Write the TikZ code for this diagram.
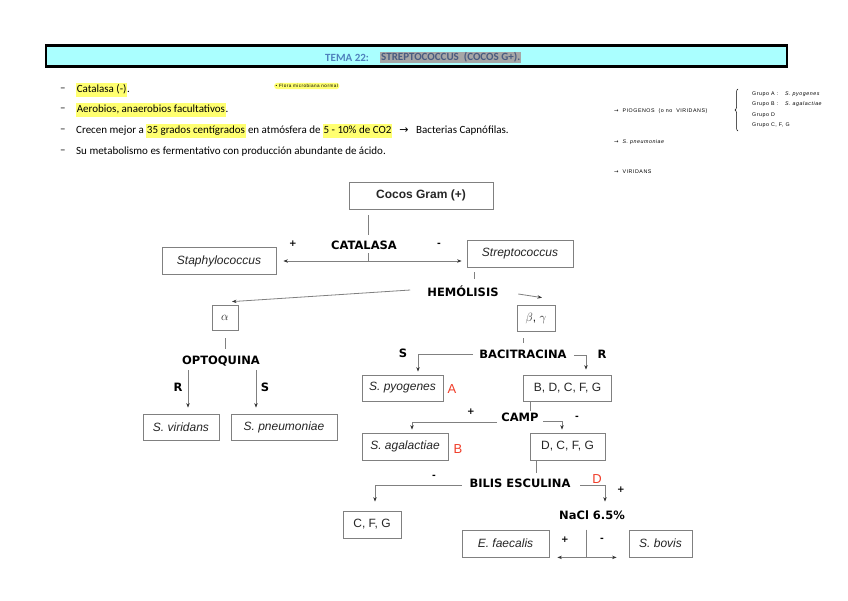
\documentclass[tikz,border=0pt]{standalone}
\usepackage{fontspec}
\setmainfont{Carlito}
\newfontfamily\arialf{Liberation Sans}
\newfontfamily\handf[LetterSpace=10]{Liberation Sans}
\newfontfamily\dejavu{DejaVu Sans}
\usetikzlibrary{arrows.meta,decorations.pathreplacing,calc}
\definecolor{hlyellow}{HTML}{FFFF70}
\definecolor{barcyan}{HTML}{AAFFFF}
\definecolor{temablue}{HTML}{4F81BD}
\definecolor{titlegray}{HTML}{A6A6A6}
\definecolor{titletext}{HTML}{4A5C80}
\definecolor{linegray}{HTML}{808080}
\definecolor{redlet}{HTML}{F03C28}
\newcommand\hlt[1]{{\setlength{\fboxsep}{0.6pt}\colorbox{hlyellow}{\strut #1}}}
\begin{document}
\begin{tikzpicture}[x=1pt,y=-1pt,
  box/.style={draw=linegray, line width=0.8pt, inner sep=0pt, font=\arialf\fontsize{12}{14}\selectfont, text=black!85},
  lbl/.style={font=\dejavu\bfseries\fontsize{11.5}{13}\selectfont, inner sep=2pt, text height=8.4pt, text depth=0pt},
  sgn/.style={font=\dejavu\bfseries\fontsize{9}{10}\selectfont, inner sep=1pt},
  conn/.style={draw=linegray, line width=0.8pt},
  arr/.style={conn, -{Stealth[length=4.5pt,width=3.4pt,color=black!80]}},
  dbl/.style={conn, {Stealth[length=4.5pt,width=3.4pt,color=black!80]}-{Stealth[length=4.5pt,width=3.4pt,color=black!80]}},
  redl/.style={font=\arialf\fontsize{13}{14}\selectfont, text=redlet, inner sep=0pt},
  bul/.style={font=\fontsize{11}{13}\selectfont, inner sep=0pt, anchor=west},
  hand/.style={font=\handf\fontsize{5.3}{6}\selectfont, inner sep=0pt, anchor=west}
]
\fill[white] (0,0) rectangle (848,600);
\useasboundingbox (0,0) rectangle (848,600);

% header bar
\node[draw=black, line width=2.5pt, fill=barcyan, minimum width=741pt, minimum height=21pt, inner sep=0pt] (bar) at (416.5,56) {};
\node[anchor=west, inner sep=0pt, font=\bfseries\fontsize{11}{13}\selectfont, text=temablue] (tema) at (325,57.5) {TEMA 22:};
\node[anchor=west, inner sep=1pt, fill=titlegray, font=\bfseries\fontsize{11}{13}\selectfont, text=titletext] (title) at (380,57.5) {STREPTOCOCCUS\ \ (COCOS G+).};

% bullets
\node[bul] (d1) at (60,90) {--};
\node[bul] (d2) at (60,110) {--};
\node[bul] (d3) at (60,131) {--};
\node[bul] (d4) at (60,152) {--};
\node[bul] (b1) at (76,90) {\hlt{Catalasa (-)}.};
\node[bul] (b2) at (76,110) {\hlt{Aerobios, anaerobios facultativos}.};
\node[bul] (b3) at (76,131) {Crecen mejor a \hlt{35 grados centígrados} en atmósfera de \hlt{5 - 10\% de CO2} \ \ {\dejavu →} \ \ Bacterias Capnófilas.};
\node[bul] (b4) at (76,152) {Su metabolismo es fermentativo con producción abundante de ácido.};

% small note
\node[hand, fill=hlyellow, rounded corners=3pt, inner sep=1.5pt, font=\handf\fontsize{4.6}{5}\selectfont] (flora) at (274,86) {• Flora microbiana normal};

% handwritten notes right
\node[hand] (piog) at (614,111) {{\dejavu →}\ \ PIOGENOS \ (o no \ VIRIDANS)};
\draw[line width=0.5pt, decorate, decoration={brace, amplitude=3pt}] (738,131) -- (738,89);
\node[hand] (ga) at (752,94) {Grupo A :};
\node[hand] (gas) at (785,94) {\itshape S. pyogenes};
\node[hand] (gb) at (752,104) {Grupo B :};
\node[hand] (gbs) at (785,104) {\itshape S. agalactiae};
\node[hand] (gd) at (752,115) {Grupo D};
\node[hand] (gc) at (752,125) {Grupo C, F, G};
\node[hand] (pn) at (614,142) {{\dejavu →}\ \ \itshape S. pneumoniae};
\node[hand] (vi) at (614,172) {{\dejavu →}\ \ VIRIDANS};

% boxes
\node[box, minimum width=144pt, minimum height=27pt] (cocos) at (421,195.5) {\bfseries Cocos Gram (+)};
\node[box, minimum width=114pt, minimum height=27pt] (staph) at (219,261) {\itshape Staphylococcus};
\node[box, minimum width=106pt, minimum height=27pt] (strep) at (520,254) {\itshape Streptococcus};
\node[box, minimum width=26pt, minimum height=25pt] (alpha) at (225,317.5) {$\alpha$};
\node[box, minimum width=38pt, minimum height=26pt] (beta) at (536,318) {$\beta$, $\gamma$};
\node[box, minimum width=76pt, minimum height=26pt] (vir) at (181,427) {\itshape S. viridans};
\node[box, minimum width=106pt, minimum height=26pt] (pneu) at (284,427) {\itshape S. pneumoniae};
\node[box, minimum width=81pt, minimum height=26pt] (pyo) at (402.5,388) {\itshape S. pyogenes};
\node[box, minimum width=88pt, minimum height=26pt] (bdcfg) at (567.5,388.5) {B, D, C, F, G};
\node[box, minimum width=86pt, minimum height=27pt] (aga) at (405,446.5) {\itshape S. agalactiae};
\node[box, minimum width=75pt, minimum height=27pt] (dcfg) at (567.5,446.5) {D, C, F, G};
\node[box, minimum width=58pt, minimum height=27pt] (cfg) at (372,524.5) {C, F, G};
\node[box, minimum width=87pt, minimum height=27pt] (faec) at (505.5,543.5) {\itshape E. faecalis};
\node[box, minimum width=63pt, minimum height=27pt] (bovis) at (660.5,543.5) {\itshape S. bovis};

% test labels
\node[lbl] (cat) at (364,245) {CATALASA};
\node[lbl] (hem) at (463,292) {HEMÓLISIS};
\node[lbl] (opt) at (221,360) {OPTOQUINA};
\node[lbl] (bac) at (523,354) {BACITRACINA};
\node[lbl] (camp) at (520,417) {CAMP};
\node[lbl] (bilis) at (520,483) {BILIS ESCULINA};
\node[lbl] (nacl) at (592,515) {NaCl 6.5\%};

% signs
\node[sgn] (s1) at (293,244) {+};
\node[sgn] (s2) at (439,245) {-};
\node[lbl] (s3) at (178,387) {R};
\node[lbl] (s4) at (265,387) {S};
\node[lbl] (s5) at (403,353) {S};
\node[lbl] (s6) at (602,354) {R};
\node[sgn] (s7) at (471,412) {+};
\node[sgn] (s8) at (577,418) {-};
\node[sgn] (s9) at (434,477) {-};
\node[sgn] (s10) at (621,490) {+};
\node[sgn] (s11) at (565,540) {+};
\node[sgn] (s12) at (602,540) {-};

% red letters
\node[redl] (ra) at (452,389) {A};
\node[redl] (rb) at (458,449) {B};
\node[redl] (rd) at (597,479) {D};

% connectors
\draw[conn, shorten <=6pt, shorten >=4pt] ([xshift=4pt]cat.north |- cocos.south) -- ([xshift=4pt]cat.north);
\draw[conn, shorten <=2pt] ([xshift=4pt]cat.south) -- ([xshift=4pt]cat.south |- staph.east);
\draw[dbl] ([xshift=7pt]staph.east) -- ([xshift=-5pt]staph.east -| strep.west);
\draw[conn, shorten <=4.5pt, shorten >=7pt] ([xshift=11pt]hem.north |- strep.south) -- ([xshift=11pt]hem.north);
\draw[arr] ([xshift=-15pt,yshift=2pt]hem.west) -- ([xshift=7pt,yshift=3pt]alpha.north);
\draw[arr] ([xshift=17.5pt,yshift=-2pt]hem.east) -- ([xshift=6pt,yshift=7pt]beta.north);
\draw[conn, shorten <=8pt, shorten >=5pt] (alpha.south) -- (alpha.south |- opt.north);
\draw[arr, shorten <=4pt] ([xshift=7pt]vir.north |- opt.south) -- ([xshift=7pt,yshift=6pt]vir.north);
\draw[arr, shorten <=4pt] ([xshift=-28pt]pneu.north |- opt.south) -- ([xshift=-28pt,yshift=6pt]pneu.north);
\draw[conn, shorten <=7pt, shorten >=5pt] (bac.north |- beta.south) -- (bac.north);
\draw[arr] ([xshift=-4pt]bac.west) -| ([xshift=15.5pt,yshift=3pt]pyo.north);
\draw[arr] ([xshift=5pt,yshift=-1pt]bac.east) -| ([xshift=18.5pt,yshift=5.5pt]bdcfg.north);
\draw[conn] ([xshift=10pt]camp.north |- bdcfg.south) -- ([xshift=10pt]camp.north);
\draw[arr] ([xshift=-2pt,yshift=-5pt]camp.west) -| ([xshift=7pt,yshift=3pt]aga.north);
\draw[arr] ([xshift=2.5pt,yshift=-4pt]camp.east) -| ([xshift=-5.5pt,yshift=3pt]dcfg.north);
\draw[conn, shorten >=4pt] ([xshift=16pt]bilis.north |- dcfg.south) -- ([xshift=16pt]bilis.north);
\draw[arr] ([xshift=-5.5pt,yshift=-2pt]bilis.west) -| ([xshift=3pt,yshift=9pt]cfg.north);
\draw[arr] ([xshift=7.5pt,yshift=-2pt]bilis.east) -| ([xshift=13pt,yshift=7pt]nacl.north);
\draw[conn] ([xshift=-6pt]nacl.south |- faec.north) -- ([xshift=-6pt]nacl.south |- faec.south);
\draw[dbl] ([xshift=8pt]faec.south east) -- ([xshift=-12pt]faec.south east -| bovis.west);
\end{tikzpicture}
\end{document}
